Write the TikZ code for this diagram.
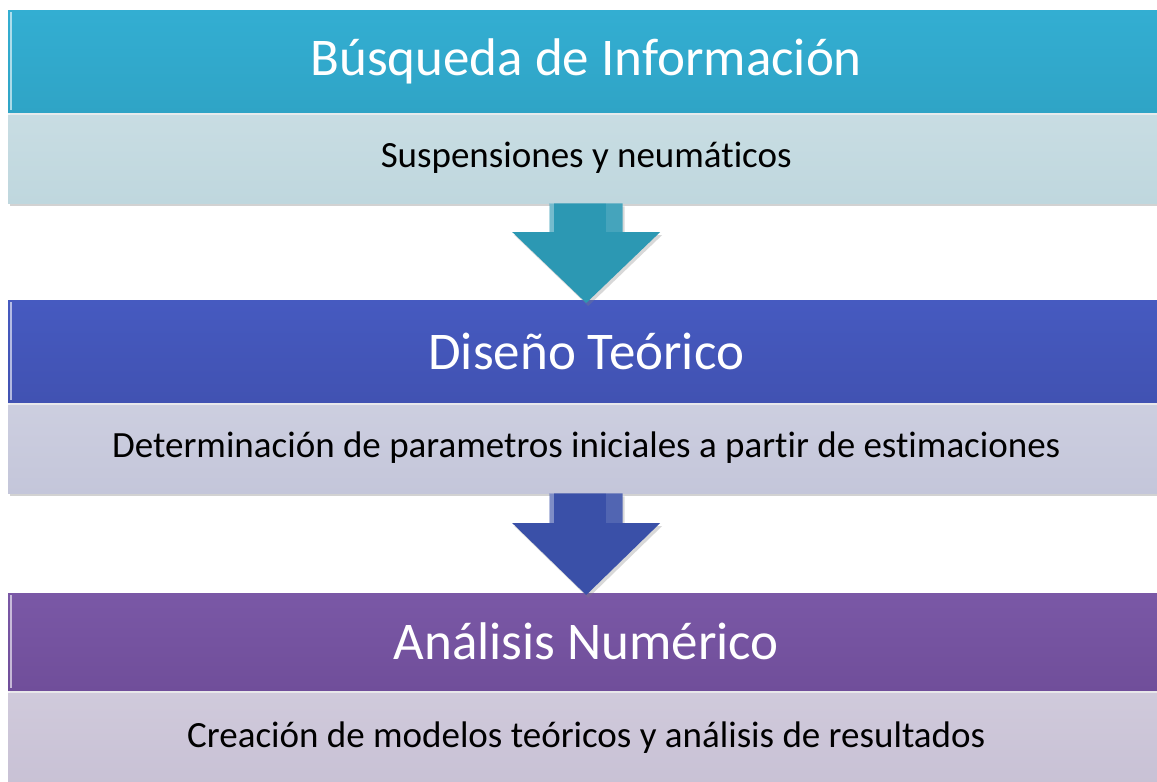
\documentclass[tikz,border=0pt]{standalone}
\usepackage{fontspec}
\setmainfont[RawFeature=-liga]{Carlito}
\usetikzlibrary{shadows,calc}
\definecolor{hA}{RGB}{51,174,210}
\definecolor{hAd}{RGB}{47,164,198}
\definecolor{sA}{RGB}{191,215,222}
\definecolor{hB}{RGB}{70,90,192}
\definecolor{hBd}{RGB}{65,82,178}
\definecolor{sB}{RGB}{196,198,218}
\definecolor{hC}{RGB}{122,88,166}
\definecolor{hCd}{RGB}{112,78,154}
\definecolor{sC}{RGB}{200,193,213}
\definecolor{aA}{RGB}{44,152,179}
\definecolor{aB}{RGB}{58,80,168}
\tikzset{
  hdr/.style={rectangle, anchor=north west, minimum width=1156pt, minimum height=102pt,
    inner sep=0pt, text=white, font=\fontsize{53}{58}\selectfont,
    drop shadow={shadow xshift=2pt, shadow yshift=-3pt, opacity=0.35}},
  sub/.style={rectangle, anchor=north west, minimum width=1156pt, minimum height=91pt,
    inner sep=0pt, text=black, font=\fontsize{37}{42}\selectfont,
    drop shadow={shadow xshift=2pt, shadow yshift=-3pt, opacity=0.35}},
  blockarrow/.style={draw=none, drop shadow={shadow xshift=2pt, shadow yshift=-3pt, opacity=0.3}}
}
\begin{document}
\begin{tikzpicture}[x=1pt,y=-1pt]
\useasboundingbox[fill=white] (0,0) rectangle (1157,782);
% block 1
\node[sub, top color=sA!85!white, bottom color=sA] (s1) at (8,112) {Suspensiones y neumáticos};
\node[hdr, top color=hA, bottom color=hAd] (h1) at (8,10) {Búsqueda de Información};
% block 2
\node[sub, top color=sB!85!white, bottom color=sB] (s2) at (8,402) {Determinación de parametros iniciales a partir de estimaciones};
\node[hdr, top color=hB, bottom color=hBd] (h2) at (8,300) {Diseño Teórico};
% block 3
\node[sub, top color=sC!85!white, bottom color=sC, minimum height=95pt] (s3) at (8,690) {Creación de modelos teóricos y análisis de resultados};
\node[hdr, top color=hC, bottom color=hCd, minimum height=97pt] (h3) at (8,593) {Análisis Numérico};
% arrows
\coordinate (t1) at ($(h2.north)+(0,3)$);
\coordinate (t2) at ($(h3.north)+(0,2)$);
\fill[blockarrow, aA] ($(s1.south)+(-36.5,0)$) -- ($(s1.south)+(36.5,0)$) -- ($(t1)+(36.5,-71)$) -- ($(t1)+(74,-71)$) -- (t1) -- ($(t1)+(-74,-71)$) -- ($(t1)+(-36.5,-71)$) -- cycle;
\fill[blockarrow, aB] ($(s2.south)+(-36.5,0)$) -- ($(s2.south)+(36.5,0)$) -- ($(t2)+(36.5,-72)$) -- ($(t2)+(74,-72)$) -- (t2) -- ($(t2)+(-74,-72)$) -- ($(t2)+(-36.5,-72)$) -- cycle;
\fill[white, opacity=0.35] ($(s1.south)+(-36,0)$) rectangle ($(t1)+(-32,-71)$);
\fill[white, opacity=0.35] ($(s2.south)+(-36,0)$) rectangle ($(t2)+(-32,-72)$);
\fill[white, opacity=0.12] ($(s1.south)+(20,0)$) rectangle ($(t1)+(36.5,-71)$);
\fill[white, opacity=0.12] ($(s2.south)+(20,0)$) rectangle ($(t2)+(36.5,-72)$);
% highlight lines
\foreach \n in {h1,h2,h3}{
  \draw[white, opacity=0.6, line width=2pt] ([xshift=3pt,yshift=-2pt]\n.north west) -- ([xshift=3pt,yshift=2pt]\n.south west);
}
\foreach \n in {s1,s2,s3}{
  \draw[white, opacity=0.7, line width=2.5pt] ([yshift=-2pt]\n.north west) -- ([yshift=-2pt]\n.north east);
}
\end{tikzpicture}
\end{document}
